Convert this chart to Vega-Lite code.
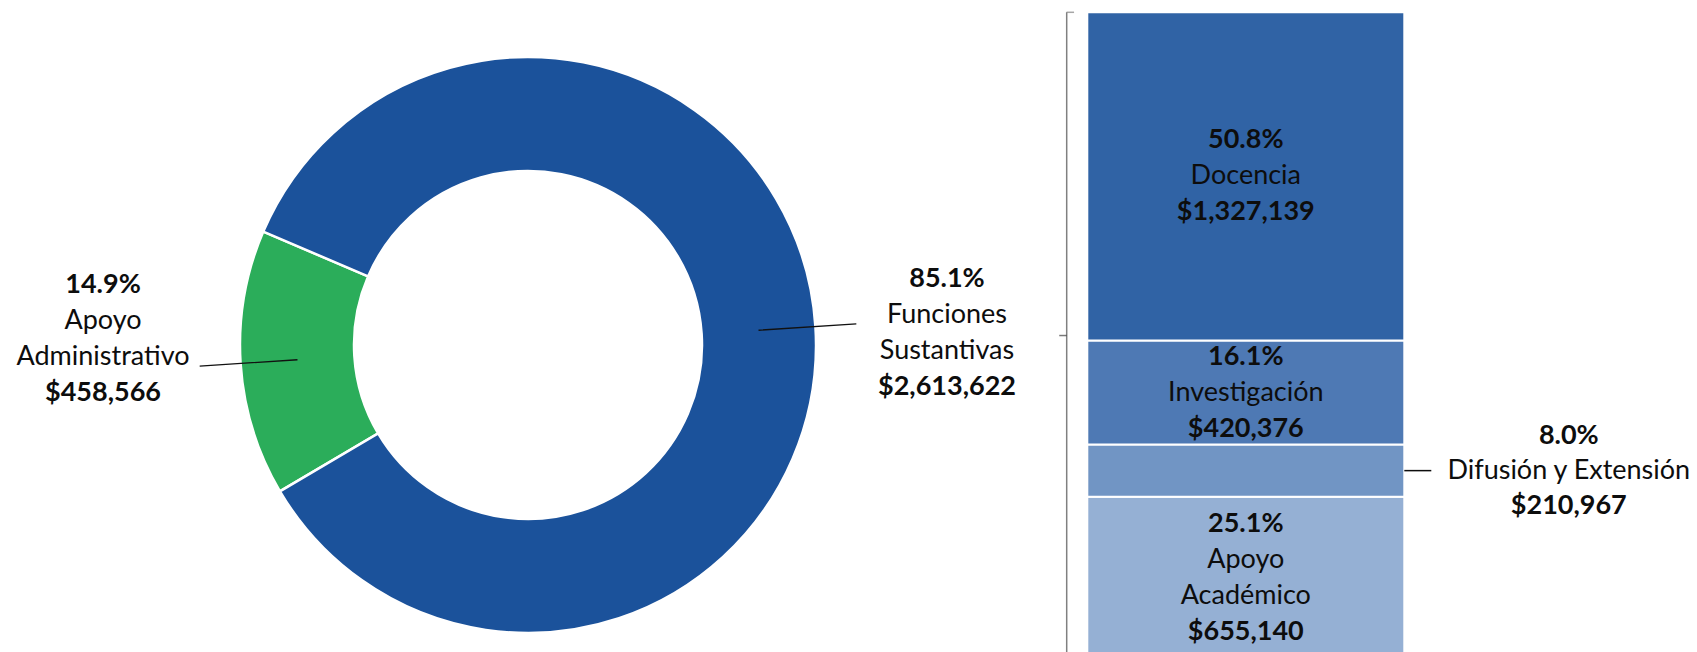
{
  "$schema": "https://vega.github.io/schema/vega-lite/v6.json",
  "padding": 0,
  "spacing": 0,
  "bounds": "flush",
  "background": "#ffffff",
  "config": {"view": {"stroke": null}, "font": "Lato"},
  "resolve": {"scale": {"color": "independent"}},
  "datasets": {
    "donut": [
      {"cat": "Apoyo Administrativo", "amount": 458566, "pct": 0.149, "ord": 1},
      {"cat": "Funciones Sustantivas", "amount": 2613622, "pct": 0.851, "ord": 2}
    ],
    "bar": [
      {"grupo": "Funciones Sustantivas", "cat": "Apoyo Académico", "amount": 655140, "pct": 0.251, "ord": 1},
      {"grupo": "Funciones Sustantivas", "cat": "Difusión y Extensión", "amount": 210967, "pct": 0.080, "ord": 2},
      {"grupo": "Funciones Sustantivas", "cat": "Investigación", "amount": 420376, "pct": 0.161, "ord": 3},
      {"grupo": "Funciones Sustantivas", "cat": "Docencia", "amount": 1327139, "pct": 0.508, "ord": 4}
    ]
  },
  "hconcat": [
    {
      "width": 1056,
      "height": 652,
      "data": {"name": "donut"},
      "layer": [
        {
          "layer": [
            {
              "mark": {"type": "arc", "outerRadius": 288, "innerRadius": 174, "stroke": "#ffffff", "strokeWidth": 2.5, "yOffset": 19},
              "encoding": {
                "theta": {"field": "amount", "type": "quantitative", "stack": true, "scale": {"range": [4.1795, 10.4627]}},
                "order": {"field": "ord", "type": "quantitative"},
                "color": {"field": "cat", "type": "nominal", "legend": null,
                  "scale": {"domain": ["Apoyo Administrativo", "Funciones Sustantivas"], "range": ["#2BAD5A", "#1B529B"]}}
              }
            },
            {
              "transform": [
                {"stack": "amount", "groupby": [], "sort": [{"field": "ord", "order": "ascending"}], "as": ["s0", "s1"]},
                {"fold": ["s0", "s1"], "as": ["edge", "v"]},
                {"aggregate": [{"op": "mean", "field": "v", "as": "mid"}], "groupby": ["cat"]}
              ],
              "mark": {"type": "arc", "filled": false, "outerRadius": 329, "innerRadius": 231, "color": "#111111", "strokeWidth": 1.3, "yOffset": 19},
              "encoding": {
                "theta": {"field": "mid", "type": "quantitative", "stack": null},
                "theta2": {"field": "mid"}
              }
            }
          ]
        },
        {
          "encoding": {
            "theta": {"field": "amount", "type": "quantitative", "stack": true, "scale": {"range": [4.2354, 10.5186]}},
            "order": {"field": "ord", "type": "quantitative"},
            "detail": {"field": "cat", "type": "nominal"}
          },
          "layer": [
            {
              "mark": {"type": "text", "radius": 422, "xOffset": -3, "yOffset": 10, "dy": -54, "font": "Lato", "fontSize": 27, "fontWeight": "bold", "color": "#0d0d0d", "align": "center", "baseline": "middle"},
              "encoding": {"text": {"field": "pct", "type": "quantitative", "format": ".1%"}}
            },
            {
              "mark": {"type": "text", "radius": 422, "xOffset": -3, "yOffset": 10, "dy": -18, "lineBreak": " ", "lineHeight": 36, "font": "Lato", "fontSize": 27, "color": "#0d0d0d", "align": "center", "baseline": "middle"},
              "encoding": {"text": {"field": "cat", "type": "nominal"}}
            },
            {
              "mark": {"type": "text", "radius": 422, "xOffset": -3, "yOffset": 10, "dy": 54, "font": "Lato", "fontSize": 27, "fontWeight": "bold", "color": "#0d0d0d", "align": "center", "baseline": "middle"},
              "encoding": {"text": {"field": "amount", "type": "quantitative", "format": "$,.0f"}}
            }
          ]
        }
      ],
      "resolve": {"scale": {"theta": "independent"}}
    },
    {
      "width": 641,
      "height": 652,
      "data": {"name": "bar"},
      "encoding": {
        "x": {"field": "grupo", "type": "nominal", "axis": null,
          "scale": {"paddingInner": 0, "paddingOuter": 0.51104, "align": 0.0966}}
      },
      "layer": [
        {
          "mark": {"type": "bar", "stroke": "#ffffff", "strokeWidth": 2, "clip": true},
          "encoding": {
            "y": {"field": "amount", "type": "quantitative", "stack": "zero", "axis": null,
              "scale": {"domain": [27315, 2663351], "nice": false, "zero": false}},
            "order": {"field": "ord", "type": "quantitative"},
            "color": {"field": "cat", "type": "nominal", "legend": null,
              "scale": {"domain": ["Apoyo Académico", "Difusión y Extensión", "Investigación", "Docencia"],
                "range": ["#95B0D4", "#7195C4", "#4E79B4", "#3063A5"]}}
          }
        },
        {
          "encoding": {
            "y": {"field": "amount", "type": "quantitative", "stack": "zero", "bandPosition": 0.5},
            "order": {"field": "ord", "type": "quantitative"},
            "detail": {"field": "cat", "type": "nominal"}
          },
          "layer": [
            {
              "mark": {"type": "text", "dy": -36, "font": "Lato", "fontSize": 27, "fontWeight": "bold", "color": "#0d0d0d", "align": "center", "baseline": "middle"},
              "encoding": {"text": {"condition": {"test": "datum.cat === 'Docencia' || datum.cat === 'Investigación'", "field": "pct", "type": "quantitative", "format": ".1%"}, "value": ""}}
            },
            {
              "mark": {"type": "text", "dy": -54, "font": "Lato", "fontSize": 27, "fontWeight": "bold", "color": "#0d0d0d", "align": "center", "baseline": "middle"},
              "encoding": {"text": {"condition": {"test": "datum.cat === 'Apoyo Académico'", "field": "pct", "type": "quantitative", "format": ".1%"}, "value": ""}}
            },
            {
              "mark": {"type": "text", "font": "Lato", "fontSize": 27, "color": "#0d0d0d", "align": "center", "baseline": "middle"},
              "encoding": {"text": {"condition": {"test": "datum.cat === 'Docencia' || datum.cat === 'Investigación'", "field": "cat", "type": "nominal"}, "value": ""}}
            },
            {
              "mark": {"type": "text", "dy": -18, "lineBreak": " ", "lineHeight": 36, "font": "Lato", "fontSize": 27, "color": "#0d0d0d", "align": "center", "baseline": "middle"},
              "encoding": {"text": {"condition": {"test": "datum.cat === 'Apoyo Académico'", "field": "cat", "type": "nominal"}, "value": ""}}
            },
            {
              "mark": {"type": "text", "dy": 36, "font": "Lato", "fontSize": 27, "fontWeight": "bold", "color": "#0d0d0d", "align": "center", "baseline": "middle"},
              "encoding": {"text": {"condition": {"test": "datum.cat === 'Docencia' || datum.cat === 'Investigación'", "field": "amount", "type": "quantitative", "format": "$,.0f"}, "value": ""}}
            },
            {
              "mark": {"type": "text", "dy": 54, "font": "Lato", "fontSize": 27, "fontWeight": "bold", "color": "#0d0d0d", "align": "center", "baseline": "middle"},
              "encoding": {"text": {"condition": {"test": "datum.cat === 'Apoyo Académico'", "field": "amount", "type": "quantitative", "format": "$,.0f"}, "value": ""}}
            },
            {
              "mark": {"type": "text", "dy": -35, "xOffset": 323, "font": "Lato", "fontSize": 27, "fontWeight": "bold", "color": "#0d0d0d", "align": "center", "baseline": "middle"},
              "encoding": {"text": {"condition": {"test": "datum.cat === 'Difusión y Extensión'", "field": "pct", "type": "quantitative", "format": ".1%"}, "value": ""}}
            },
            {
              "mark": {"type": "text", "xOffset": 323, "font": "Lato", "fontSize": 27, "color": "#0d0d0d", "align": "center", "baseline": "middle"},
              "encoding": {"text": {"condition": {"test": "datum.cat === 'Difusión y Extensión'", "field": "cat", "type": "nominal"}, "value": ""}}
            },
            {
              "mark": {"type": "text", "dy": 35, "xOffset": 323, "font": "Lato", "fontSize": 27, "fontWeight": "bold", "color": "#0d0d0d", "align": "center", "baseline": "middle"},
              "encoding": {"text": {"condition": {"test": "datum.cat === 'Difusión y Extensión'", "field": "amount", "type": "quantitative", "format": "$,.0f"}, "value": ""}}
            },
            {
              "mark": {"type": "tick", "orient": "horizontal", "size": 27, "thickness": 1.5, "xOffset": 172, "color": "#0d0d0d"},
              "encoding": {"opacity": {"condition": {"test": "datum.cat === 'Difusión y Extensión'", "value": 1}, "value": 0}}
            }
          ]
        },
        {
          "transform": [{"aggregate": [{"op": "sum", "field": "amount", "as": "total"}], "groupby": ["grupo"]}],
          "layer": [
            {
              "mark": {"type": "rule", "color": "#808080", "strokeWidth": 1.5, "xOffset": -20.6, "clip": true},
              "encoding": {
                "x": {"field": "grupo", "type": "nominal", "bandPosition": 0},
                "y": {"field": "total", "type": "quantitative"},
                "y2": {"datum": 0}
              }
            },
            {
              "mark": {"type": "tick", "orient": "horizontal", "size": 7.5, "thickness": 1.5, "xOffset": -175.5, "color": "#808080"},
              "encoding": {
                "y": {"field": "total", "type": "quantitative"}
              }
            },
            {
              "mark": {"type": "tick", "orient": "horizontal", "size": 7.5, "thickness": 1.5, "xOffset": -182.8, "color": "#404040"},
              "encoding": {
                "y": {"field": "total", "type": "quantitative", "stack": "zero", "bandPosition": 0.5}
              }
            }
          ]
        }
      ]
    }
  ]
}
